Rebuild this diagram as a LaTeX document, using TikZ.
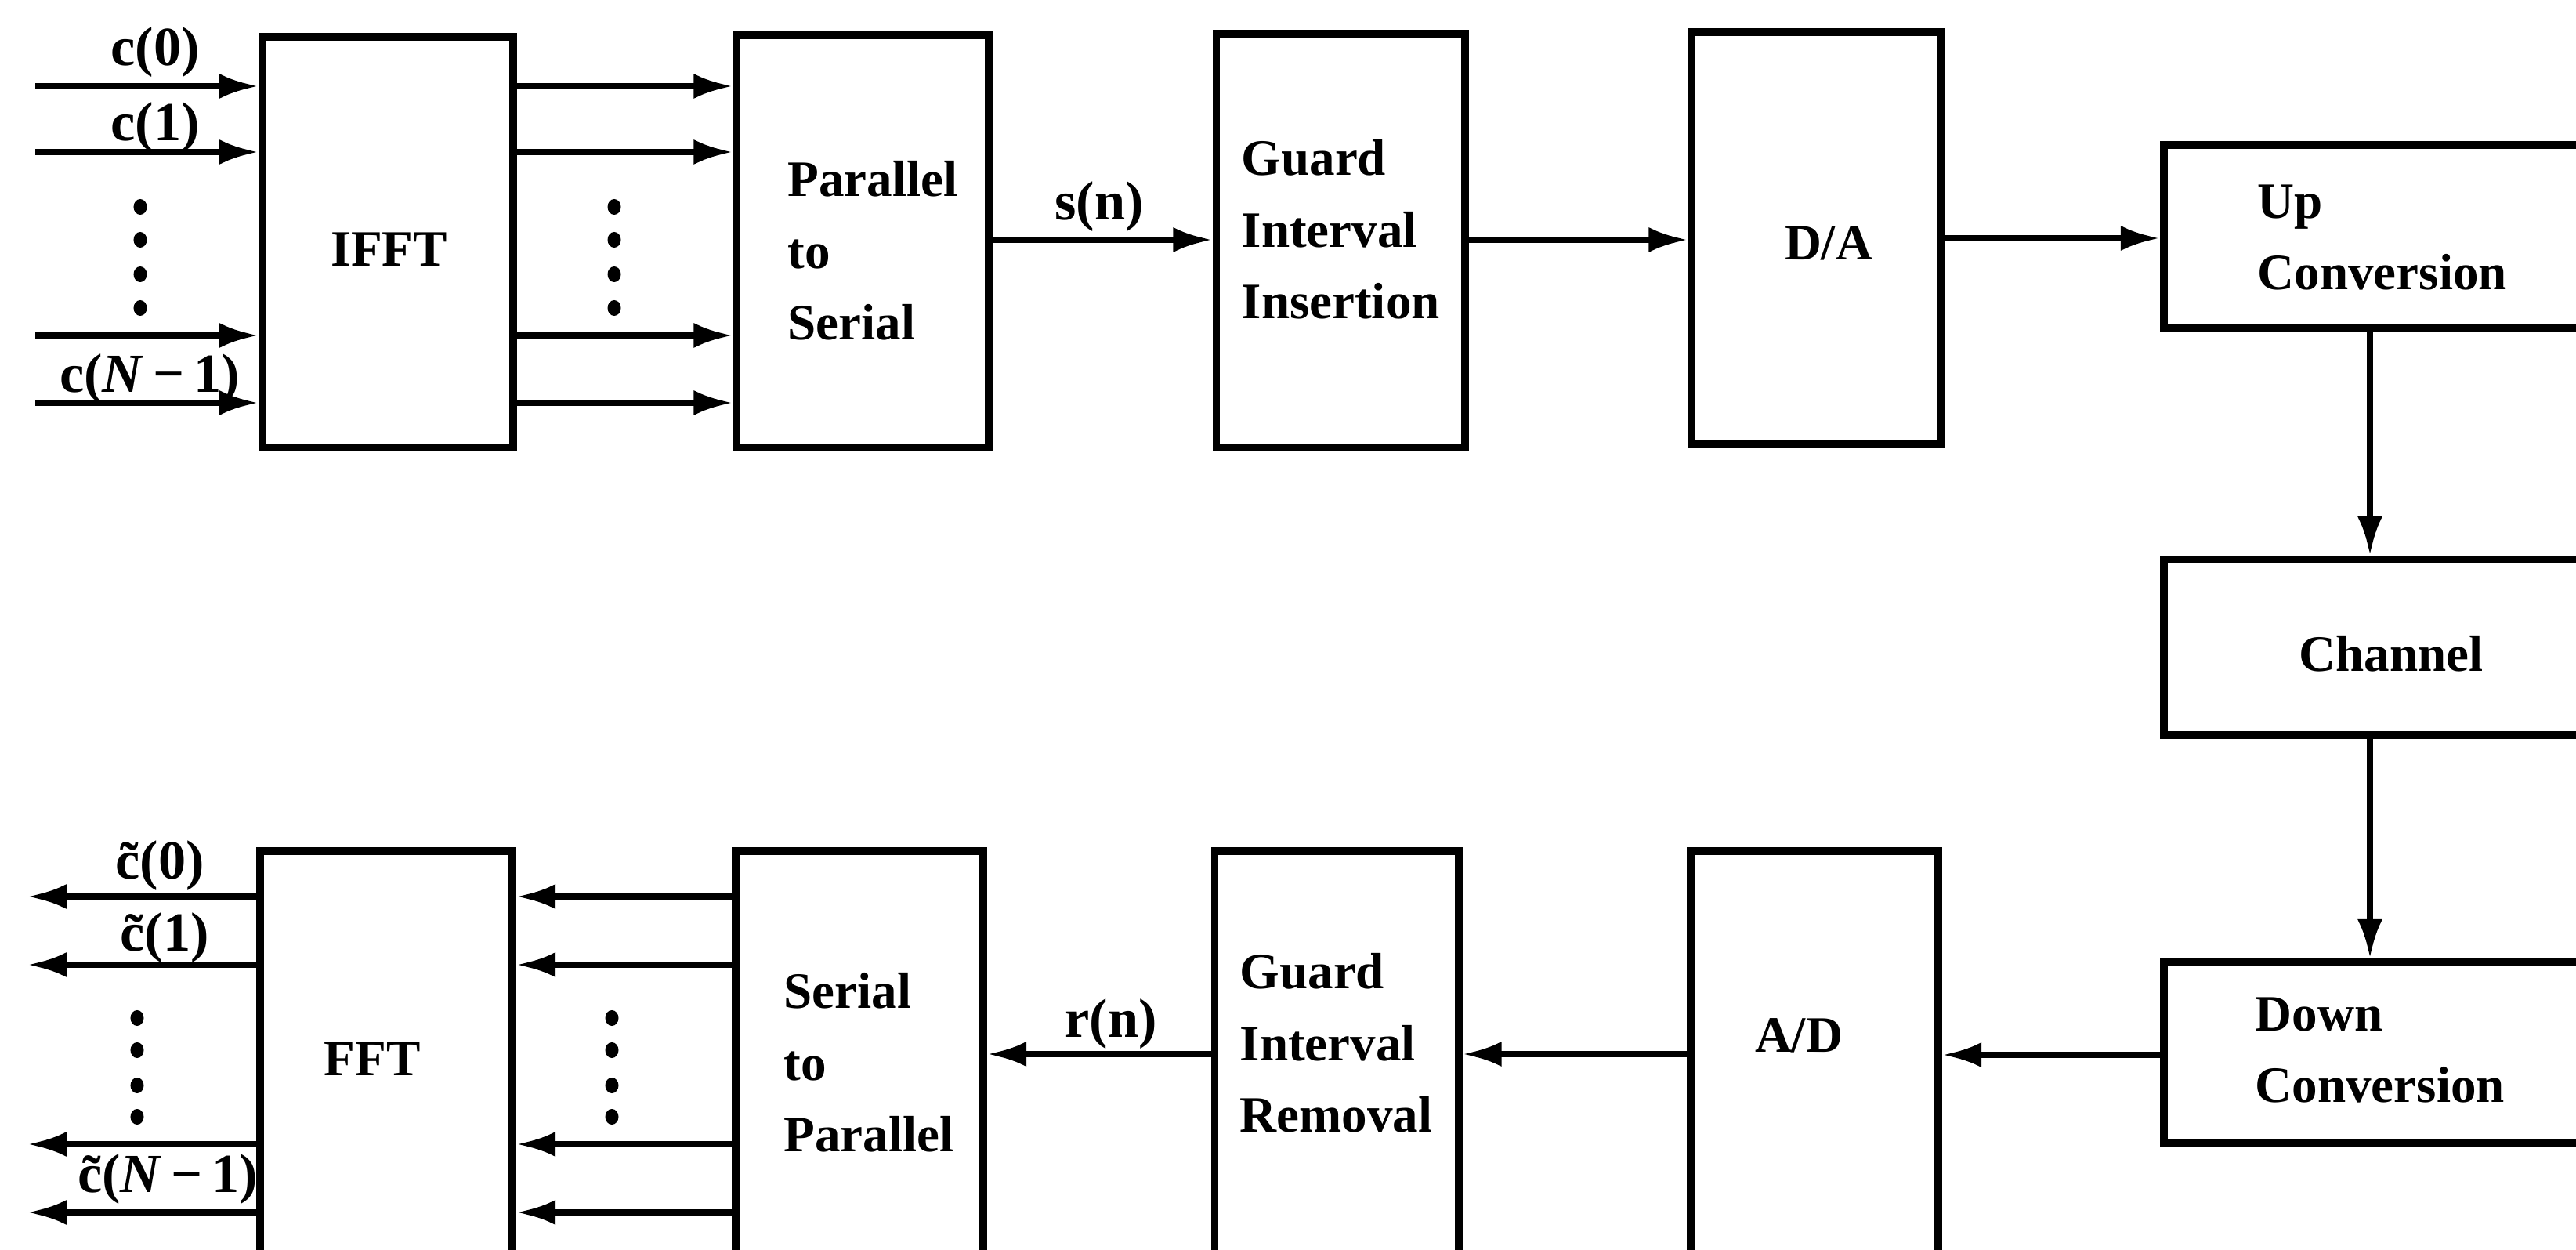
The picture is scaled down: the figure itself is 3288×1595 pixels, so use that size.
\documentclass[tikz,border=0pt]{standalone}
\usepackage{fontspec}
\setmainfont{Liberation Serif}
\usetikzlibrary{arrows.meta}
\newcommand{\lbl}[1]{\textbf{#1}}
\begin{document}
\begin{tikzpicture}[x=0.01cm, y=-0.01cm,
  blk/.style={draw, line width=2.8pt, inner sep=0pt},
  txt/.style={inner sep=0pt, align=left, font=\fontsize{18.5}{26}\selectfont\bfseries},
  arr/.style={line width=2.3pt, -{Latex[length=0.5cm, width=0.32cm]}},
  lab/.style={font=\fontsize{20}{22}\selectfont\bfseries, inner sep=0pt},
  dot/.style={fill, ellipse, inner sep=0pt, minimum width=0.17cm, minimum height=0.2cm}
]
\useasboundingbox (0,0) rectangle (3288,1595);
\clip (0,0) rectangle (3288,1595);

% transmitter row boxes
\node[blk, minimum width=3.20cm, minimum height=5.24cm] (ifft) at (495,309) {};
\node[blk, minimum width=3.21cm, minimum height=5.25cm] (ps) at (1101,308) {};
\node[blk, minimum width=3.17cm, minimum height=5.27cm] (gii) at (1711,307) {};
\node[blk, minimum width=3.17cm, minimum height=5.26cm] (da) at (2318,304) {};
\node[blk, minimum width=5.80cm, minimum height=2.33cm] (up) at (3052,302) {};
\node[blk, minimum width=5.80cm, minimum height=2.24cm] (ch) at (3052,826) {};
\node[blk, minimum width=5.80cm, minimum height=2.30cm] (down) at (3052,1343) {};

% receiver row boxes
\node[blk, minimum width=3.16cm, minimum height=5.25cm] (ad) at (2316,1349) {};
\node[blk, minimum width=3.11cm, minimum height=5.25cm] (gir) at (1706,1349) {};
\node[blk, minimum width=3.16cm, minimum height=5.25cm] (sp) at (1097,1349) {};
\node[blk, minimum width=3.22cm, minimum height=5.25cm] (fft) at (493,1349) {};

% box texts
\node[txt] (ifftT) at (497,318) {IFFT};
\node[txt, anchor=west] (psT) at (1005,320) {Parallel\\to\\Serial};
\node[txt, anchor=west] (giiT) at (1584,293) {Guard\\Interval\\Insertion};
\node[txt] (daT) at (2334,310) {D/A};
\node[txt, anchor=west] (upT) at (2881,303) {Up\\Conversion};
\node[txt] (chT) at (3052,834) {Channel};
\node[txt, anchor=west] (downT) at (2878,1340) {Down\\Conversion};
\node[txt] (adT) at (2296,1321) {A/D};
\node[txt, anchor=west] (girT) at (1582,1331) {Guard\\Interval\\Removal};
\node[txt, anchor=west] (spT) at (1000,1356) {Serial\\to\\Parallel};
\node[txt] (fftT) at (475,1351) {FFT};

% inputs
\foreach \y [count=\i] in {110,194,428,514} {
  \coordinate (in\i) at (45,\y);
  \draw[arr] (in\i) -- (in\i -| ifft.west);
  \draw[arr] (ifft.east |- in\i) -- (ps.west |- in\i);
}
% outputs
\foreach \y [count=\i] in {1144,1231,1460,1547} {
  \coordinate (out\i) at (35,\y);
  \draw[arr] (sp.west |- out\i) -- (fft.east |- out\i);
  \draw[arr] (fft.west |- out\i) -- (out\i);
}

% dots
\foreach \x in {179,784} \foreach \y in {264,306,350,393} \fill (\x,\y) ellipse[x radius=0.085cm, y radius=0.1cm];
\foreach \x in {175,781} \foreach \y in {1299,1340,1385,1425} \fill (\x,\y) ellipse[x radius=0.085cm, y radius=0.1cm];

% serial chain
\draw[arr] (ps.east |- 0,306) -- (gii.west |- 0,306);
\draw[arr] (gii.east |- 0,306) -- (da.west |- 0,306);
\draw[arr] (da.east |- 0,304) -- (up.west |- 0,304);
\draw[arr] (up.south -| 3025,0) -- (ch.north -| 3025,0);
\draw[arr] (ch.south -| 3025,0) -- (down.north -| 3025,0);
\draw[arr] (down.west |- 0,1346) -- (ad.east |- 0,1346);
\draw[arr] (ad.west |- 0,1345) -- (gir.east |- 0,1345);
\draw[arr] (gir.west |- 0,1345) -- (sp.east |- 0,1345);

% labels
\node[lab] (sn) at (1403,264) {s(n)};
\node[lab] (rn) at (1418,1307) {r(n)};
\node[lab] (c0) at (198,67) {c(0)};
\node[lab] (c1) at (198,163) {c(1)};
\node[lab] (cn) at (191,484) {c(\textit{N}\,−\,1)};
\node[lab] (d0) at (204,1105) {\~c(0)};
\node[lab] (d1) at (210,1197) {\~c(1)};
\node[lab] (dn) at (214,1505) {\~c(\textit{N}\,−\,1)};
\end{tikzpicture}
\end{document}
